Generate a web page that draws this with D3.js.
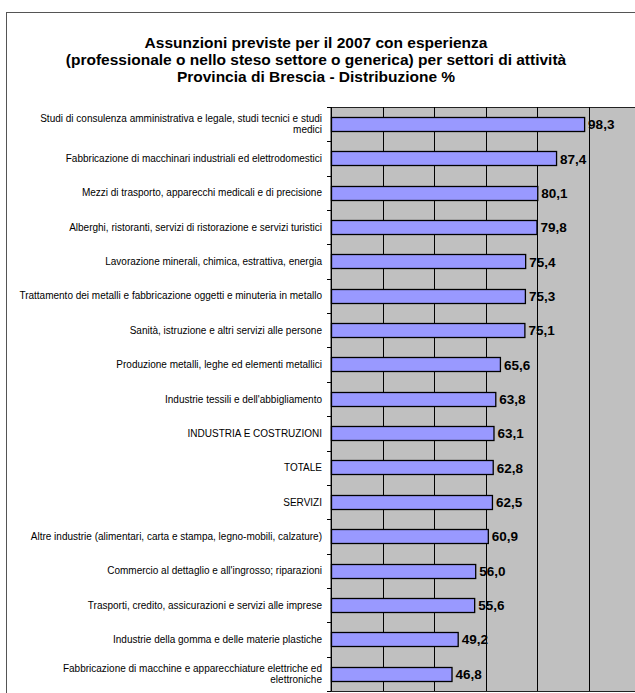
<!DOCTYPE html>
<html><head><meta charset="utf-8">
<script src="https://cdn.jsdelivr.net/npm/d3@7"></script>
<style>html,body{margin:0;padding:0;background:#fff;}svg{display:block;}</style>
</head><body>
<svg id="c" width="635" height="693"></svg>
<script>
const categories = [
  ["Studi di consulenza amministrativa e legale, studi tecnici e studi", "medici"],
  ["Fabbricazione di macchinari industriali ed elettrodomestici"],
  ["Mezzi di trasporto, apparecchi medicali e di precisione"],
  ["Alberghi, ristoranti, servizi di ristorazione e servizi turistici"],
  ["Lavorazione minerali, chimica, estrattiva, energia"],
  ["Trattamento dei metalli e fabbricazione oggetti e minuteria in metallo"],
  ["Sanità, istruzione e altri servizi alle persone"],
  ["Produzione metalli, leghe ed elementi metallici"],
  ["Industrie tessili e dell'abbigliamento"],
  ["INDUSTRIA E COSTRUZIONI"],
  ["TOTALE"],
  ["SERVIZI"],
  ["Altre industrie (alimentari, carta e stampa, legno-mobili, calzature)"],
  ["Commercio al dettaglio e all'ingrosso; riparazioni"],
  ["Trasporti, credito, assicurazioni e servizi alle imprese"],
  ["Industrie della gomma e delle materie plastiche"],
  ["Fabbricazione di macchine e apparecchiature elettriche ed", "elettroniche"]
];
const values = [98.3, 87.4, 80.1, 79.8, 75.4, 75.3, 75.1, 65.6, 63.8, 63.1, 62.8, 62.5, 60.9, 56.0, 55.6, 49.2, 46.8];
const xTicks = [0, 20, 40, 60, 80, 100, 120];
const titleLines = [
  "Assunzioni previste per il 2007 con esperienza",
  "(professionale o nello steso settore o generica) per settori di attività",
  "Provincia di Brescia - Distribuzione %"
];

(function () {
const svg = d3.select("#c");
const font = "'Liberation Sans', Arial, sans-serif";

// outer chart border
svg.append("rect").attr("x", 6.5).attr("y", 12.5).attr("width", 700).attr("height", 700)
  .attr("fill", "#fff").attr("stroke", "#555").attr("stroke-width", 1);

// title
svg.append("g").selectAll("text").data(titleLines).join("text")
  .attr("x", 316).attr("y", (d, i) => 48 + i * 17)
  .attr("text-anchor", "middle")
  .attr("font-family", font).attr("font-weight", "bold").attr("font-size", 15.5)
  .text(d => d);

const pLeft = 331, pTop = 107, pBottom = 691, pRight = 640;
const x = d3.scaleLinear().domain([0, 120]).range([pLeft, pRight]);
const y = d3.scaleBand().domain(d3.range(categories.length)).range([pTop, pBottom]).paddingInner(0.58).paddingOuter(0.29);

// plot background
svg.append("rect").attr("x", pLeft).attr("y", pTop + 0.5).attr("width", pRight - pLeft).attr("height", pBottom - pTop)
  .attr("fill", "#C0C0C0").attr("stroke", "#222").attr("stroke-width", 1);

// grid
svg.append("g").selectAll("line").data(xTicks.filter(t => t > 0 && t < 120)).join("line")
  .attr("x1", d => Math.round(x(d)) + 0.5).attr("x2", d => Math.round(x(d)) + 0.5)
  .attr("y1", pTop).attr("y2", pBottom)
  .attr("stroke", "#000").attr("stroke-width", 1);

// bars
svg.append("g").selectAll("rect").data(values).join("rect")
  .attr("x", pLeft + 0.5).attr("y", (d, i) => Math.round(y(i)) + 0.5)
  .attr("width", d => x(d) - pLeft).attr("height", Math.round(y.bandwidth()))
  .attr("fill", "#9999FF").attr("stroke", "#000").attr("stroke-width", 1.3);

// value labels
svg.append("g").selectAll("text").data(values).join("text")
  .attr("x", d => x(d) + 4).attr("y", (d, i) => y(i) + y.bandwidth() / 2 + 5)
  .attr("font-family", font).attr("font-weight", "bold").attr("font-size", 13.5)
  .attr("fill", "#000")
  .text(d => d3.format(".1f")(d).replace(".", ","));

// y axis line and ticks at category boundaries
const step = y.step();
svg.append("line").attr("x1", pLeft + 0.5).attr("x2", pLeft + 0.5).attr("y1", pTop).attr("y2", pBottom)
  .attr("stroke", "#000").attr("stroke-width", 1);
svg.append("g").selectAll("line").data(d3.range(categories.length + 1)).join("line")
  .attr("x1", pLeft - 4).attr("x2", pLeft)
  .attr("y1", i => Math.round(pTop + i * step) + 0.5).attr("y2", i => Math.round(pTop + i * step) + 0.5)
  .attr("stroke", "#000").attr("stroke-width", 1);

// category labels
const lab = svg.append("g").selectAll("text").data(categories).join("text")
  .attr("text-anchor", "end")
  .attr("font-family", font).attr("font-size", 10).attr("fill", "#000");
lab.each(function (lines, i) {
  const cy = y(i) + y.bandwidth() / 2;
  const lh = 11.5;
  const y0 = cy - (lines.length - 1) * lh / 2 + 3.5;
  d3.select(this).selectAll("tspan").data(lines).join("tspan")
    .attr("x", 322).attr("y", (d, j) => y0 + j * lh).text(d => d);
});
})();
</script>
</body></html>
